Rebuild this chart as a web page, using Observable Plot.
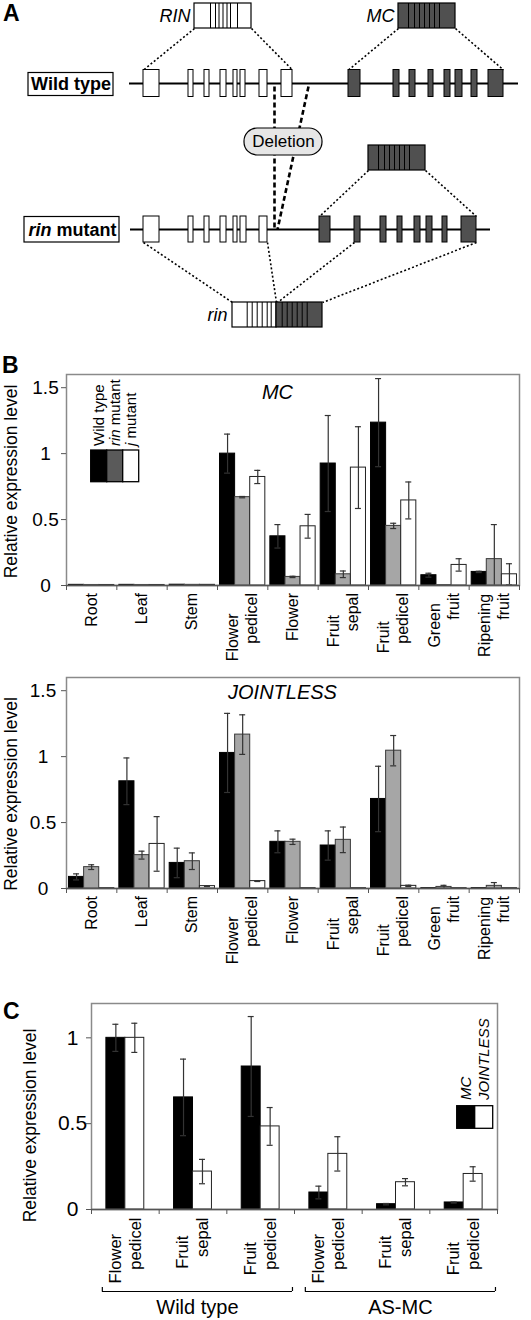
<!DOCTYPE html>
<html><head><meta charset="utf-8">
<script src="https://cdn.jsdelivr.net/npm/d3@7"></script>
<script src="https://cdn.jsdelivr.net/npm/@observablehq/plot@0.6"></script>
<style>
body{margin:0;background:#fff;font-family:"Liberation Sans",Arial,Helvetica,sans-serif;}
#root{position:relative;width:531px;height:1320px;overflow:hidden;background:#fff}
.chart{position:absolute;left:0}
.letter{position:absolute;font-weight:bold;font-size:23px;line-height:1;color:#000}
</style></head><body><div id="root"></div>
<script>
// ---------- DATA ----------
// Panel A: gene structure (schematic positions along the drawing)
const wtRIN  = [[143,159],[188,193],[204,209],[220,226],[233,237],[240,245],[259,267],[281,292]];
const wtMC   = [[348,360],[393,399],[409,415],[428,433],[444,450],[455,462],[471,477],[488,503]];
const rinRIN = [[143,159],[188,193],[204,209],[220,226],[233,237],[240,246],[259,267]];
const rinMC  = [[319,330],[354,360],[380,386],[397,402],[414,420],[426,432],[442,447],[461,476]];

// Panel B
const tissues = ["Root","Leaf","Stem","Flower\npedicel","Flower","Fruit\nsepal","Fruit\npedicel","Green\nfruit","Ripening\nfruit"];
const genotypes = ["Wild type","rin mutant","j mutant"];
const mcWT    = [0.005,0.005,0.006,1.00,0.373,0.925,1.235,0.078,0.103];
const mcWTErr = [0,0,0,0.148,0.089,0.364,0.334,0.015,0.005];
const mcRin    = [0.004,0.004,0.005,0.67,0.065,0.085,0.452,0.003,0.20];
const mcRinErr = [0,0,0,0.005,0.005,0.025,0.02,0,0.262];
const mcJ    = [0.004,0.004,0.005,0.823,0.449,0.894,0.645,0.156,0.085];
const mcJErr = [0,0,0,0.05,0.09,0.31,0.14,0.047,0.08];
const jlWT    = [0.088,0.813,0.194,1.028,0.354,0.326,0.679,0.003,0.003];
const jlWTErr = [0.023,0.177,0.112,0.30,0.083,0.111,0.248,0,0];
const jlRin    = [0.162,0.253,0.207,1.167,0.354,0.369,1.045,0.012,0.02];
const jlRinErr = [0.018,0.03,0.063,0.15,0.02,0.097,0.115,0.012,0.025];
const jlJ    = [0.003,0.338,0.018,0.056,0.003,0.003,0.02,0.003,0.003];
const jlJErr = [0,0.207,0.003,0.003,0,0,0.005,0,0];
const bTicks = [0,0.5,1,1.5];

// Panel C
const cTissues = ["Flower\npedicel","Fruit\nsepal","Fruit\npedicel","Flower\npedicel","Fruit\nsepal","Fruit\npedicel"];
const cLines = ["Wild type","AS-MC"];
const cLineStart = [0,3];
const cLineEnd = [3,6];
const cGenes = ["MC","JOINTLESS"];
const cMC    = [1.0,0.653,0.833,0.099,0.031,0.041];
const cMCErr = [0.079,0.223,0.291,0.037,0.004,0.003];
const cJL    = [1.0,0.221,0.484,0.324,0.159,0.207];
const cJLErr = [0.085,0.071,0.11,0.10,0.021,0.042];
const cTicks = [0,0.5,1];

// ---------- RENDER ----------
const FONT = '"Liberation Sans", Arial, Helvetica, sans-serif';
const root = document.getElementById("root");
function place(node, top){ node.classList.add("chart"); node.style.top = top + "px"; root.appendChild(node); return node; }
function letter(t, left, top){ const d=document.createElement("div"); d.className="letter"; d.textContent=t; d.style.left=left+"px"; d.style.top=top+"px"; root.appendChild(d); }

// ----- Panel A -----
const DARK = "#505050";
const exonRows = [];
wtRIN.forEach(e=>exonRows.push({x1:e[0],x2:e[1],y1:69.5,y2:96.5,fill:"#fff"}));
wtMC.forEach(e=>exonRows.push({x1:e[0],x2:e[1],y1:69.5,y2:96.5,fill:DARK}));
rinRIN.forEach(e=>exonRows.push({x1:e[0],x2:e[1],y1:216,y2:242,fill:"#fff"}));
rinMC.forEach(e=>exonRows.push({x1:e[0],x2:e[1],y1:216,y2:242,fill:DARK}));
const backbones = [{y:83,x1:129,x2:518},{y:229,x1:130,x2:490}];
const cdnaBoxes = [
  {x1:194,x2:251,y1:3,y2:28,fill:"#fff"},
  {x1:398,x2:455,y1:3,y2:28,fill:DARK},
  {x1:368,x2:425,y1:145,y2:170,fill:DARK},
  {x1:232,x2:276,y1:302,y2:327,fill:"#fff"},
  {x1:276,x2:322,y1:302,y2:327,fill:DARK}
];
const stripes = [];
[210,215,218.5,222.5,226.5,230,237].forEach(x=>stripes.push({x,y1:3,y2:28}));
[408,414,419,424,429,434,439].forEach(x=>stripes.push({x,y1:3,y2:28}));
[378,384,389,394,399,404,409].forEach(x=>stripes.push({x,y1:145,y2:170}));
[246.7,251.7,256.7,261.7,266.7,270.7,281.7,286.7,291.7,296.7,301.7,306.7].forEach(x=>stripes.push({x,y1:302,y2:327}));
const dotted = [
  [194,28,143,69.5],[251,28,292,69.5],[398,28,348,69.5],[455,28,503,69.5],
  [368,170,319,216],[425,170,476,216],
  [143,242,232,302],[267,242,276,302],[354,242,277,302],[476,242,322,302]
].map(([x1,y1,x2,y2])=>({x1,y1,x2,y2}));
const deletion = [{x1:274,y1:86,x2:274,y2:229},{x1:308,y1:86,x2:277,y2:229}];

const plotA = Plot.plot({
  width:531, height:364, margin:0,
  x:{domain:[0,531], range:[0,531], axis:null},
  y:{domain:[0,364], range:[0,364], axis:null},
  style:{fontFamily:FONT, background:"transparent", color:"#000", overflow:"visible"},
  marks:[
    Plot.link(dotted,{x1:"x1",y1:"y1",x2:"x2",y2:"y2",stroke:"#000",strokeWidth:1.6,strokeDasharray:"2,2.2"}),
    Plot.link(deletion,{x1:"x1",y1:"y1",x2:"x2",y2:"y2",stroke:"#000",strokeWidth:2.6,strokeDasharray:"5,3"}),
    Plot.ruleY(backbones,{y:"y",x1:"x1",x2:"x2",stroke:"#000",strokeWidth:2}),
    Plot.rect(exonRows,{x1:"x1",x2:"x2",y1:"y1",y2:"y2",fill:"fill",stroke:"#000",strokeWidth:1}),
    Plot.rect(cdnaBoxes,{x1:"x1",x2:"x2",y1:"y1",y2:"y2",fill:"fill",stroke:"#000",strokeWidth:1.2}),
    Plot.ruleX(stripes,{x:"x",y1:"y1",y2:"y2",stroke:"#000",strokeWidth:1}),
    Plot.rect([{x1:244,x2:322,y1:128,y2:155}],{x1:"x1",x2:"x2",y1:"y1",y2:"y2",rx:13,fill:"#e6e6e6",stroke:"#000",strokeWidth:1.2}),
    Plot.text(["Deletion"],{x:283,y:141.5,text:d=>d,fontSize:17,textAnchor:"middle"}),
    Plot.rect([{x1:28,x2:113,y1:72.5,y2:95.5},{x1:24,x2:119,y1:216.5,y2:242}],{x1:"x1",x2:"x2",y1:"y1",y2:"y2",fill:"#fff",stroke:"#000",strokeWidth:1.2}),
    Plot.text(["Wild type"],{x:70.5,y:84,text:d=>d,fontSize:18,fontWeight:"bold",textAnchor:"middle"}),
    Plot.text(["rin"],{x:28,y:229.5,text:d=>d,fontSize:18,fontWeight:"bold",fontStyle:"italic",textAnchor:"start"}),
    Plot.text(["mutant"],{x:56,y:229.5,text:d=>d,fontSize:18,fontWeight:"bold",textAnchor:"start"}),
    Plot.text(["RIN","MC","rin"],{x:[190,394,227],y:[15.5,15.5,314.5],text:d=>d,fontSize:18,fontStyle:"italic",textAnchor:"end"})
  ]
});
place(plotA, 0);

// ----- Bar chart builder -----
const measureCtx = document.createElement("canvas").getContext("2d");
function barChart(cfg){
  const {labels, series, yMax, yTicks, pad, capPx, plotH, mt, mb, ml, mr,
         tickCx, tickFont, ylabDx, ylabDy, labFont, labDy, lineGap, lineShift,
         title, titleDx, titleDy, extra=[]} = cfg;
  const n = labels.length, k = series.length;
  const gw = (531 - ml - mr) / n;
  const pxPerUnit = plotH / yMax;
  const w = (1 - 2*pad) / k;
  const cap = capPx / gw;
  const marks = [];
  const errs = [];
  series.forEach((s, j) => {
    const rows = s.values.map((v, i) => ({i, v, e: s.errors[i],
      x1: i + pad + j*w, x2: i + pad + (j+1)*w, xc: i + pad + (j+0.5)*w}));
    marks.push(Plot.rect(rows, {x1:"x1", x2:"x2", y1:0, y2:"v", fill:s.fill, stroke:s.stroke, strokeWidth:1}));
    rows.forEach(d => { if (d.e > 0) errs.push({...d, lo: Math.max(0, d.v - d.e), hi: d.v + d.e}); });
  });
  // category labels: rotated, lines centred on each other, first line set lower
  measureCtx.font = `${labFont}px ${FONT}`;
  const labelRows = [];
  labels.forEach((lab, i) => {
    const lines = lab.split("\n");
    const ws = lines.map(s => measureCtx.measureText(s).width);
    if (lines.length === 1) labelRows.push({x:i+0.5, off:0, d:ws[0]/2, t:lines[0]});
    else {
      const d1 = Math.max(ws[0]/2, lineShift + ws[1]/2);
      labelRows.push({x:i+0.5, off:-lineGap/2, d:d1, t:lines[0]});
      labelRows.push({x:i+0.5, off:lineGap/2, d:d1 - lineShift, t:lines[1]});
    }
  });
  marks.push(
    Plot.ruleX(errs, {x:"xc", y1:"lo", y2:"hi", stroke:"#333", strokeWidth:1.2}),
    Plot.ruleY(errs, {y:"hi", x1:d=>d.xc-cap, x2:d=>d.xc+cap, stroke:"#333", strokeWidth:1.2}),
    Plot.ruleY(errs.filter(d=>d.lo>0), {y:"lo", x1:d=>d.xc-cap, x2:d=>d.xc+cap, stroke:"#333", strokeWidth:1.2}),
    Plot.frame({stroke:"#8a8a8a", strokeWidth:1.5}),
    Plot.ruleY([0], {stroke:"#555", strokeWidth:1.3}),
    Plot.axisY({ticks:yTicks, tickSize:5, tickFormat:()=>"", stroke:"#555", label:null}),
    Plot.text(yTicks, {y:d=>d, frameAnchor:"left", dx:tickCx-ml, text:d=>String(d), textAnchor:"middle", fontSize:tickFont}),
    Plot.axisX({ticks:d3.range(n+1), tickSize:5, tickFormat:()=>"", stroke:"#555", label:null}),
    Plot.text(labelRows, {x:d=>d.x + d.off/gw, y:d=>-(labDy + d.d)/pxPerUnit, text:"t", rotate:-90,
      textAnchor:"middle", lineAnchor:"middle", fontSize:labFont}),
    Plot.text(["Relative expression level"], {frameAnchor:"left", dx:ylabDx, dy:ylabDy, text:d=>d, rotate:-90,
      textAnchor:"middle", lineAnchor:"middle", fontSize:17.5})
  );
  if (title) marks.push(Plot.text([title], {frameAnchor:"top", dx:titleDx, dy:titleDy, text:d=>d, fontStyle:"italic",
      fontSize:20, textAnchor:"middle", lineAnchor:"middle"}));
  marks.push(...extra);
  return Plot.plot({
    width:531, height: mt + plotH + mb, marginTop:mt, marginBottom:mb, marginLeft:ml, marginRight:mr,
    x:{domain:[0,n]}, y:{domain:[0,yMax]},
    style:{fontFamily:FONT, background:"transparent", color:"#000", overflow:"visible"},
    marks
  });
}

const GRAY = "#a6a6a6";
// ----- Panel B: MC -----
const plotMC = barChart({
  labels: tissues,
  series: [
    {values: mcWT, errors: mcWTErr, fill:"#000", stroke:"#000"},
    {values: mcRin, errors: mcRinErr, fill:GRAY, stroke:"#3a3a3a"},
    {values: mcJ, errors: mcJErr, fill:"#fff", stroke:"#222"}
  ],
  yMax:1.6, yTicks:bTicks, pad:0.05, capPx:3, plotH:211, mt:10, mb:82, ml:66, mr:12,
  tickCx:45, tickFont:19, ylabDx:-55, ylabDy:1.5, labFont:16, labDy:7.5, lineGap:19, lineShift:19,
  title:"MC", titleDx:-15.5, titleDy:18
});
place(plotMC, 364);

// legend for MC chart (svg coordinates)
{
  const svg = d3.select(plotMC);
  const g = svg.append("g").attr("font-family", FONT).attr("font-size", 15).attr("text-anchor", "start");
  const fills = ["#000", "#5a5a5a", "#fff"];
  const xs = [90.7, 106.7, 122.7];
  xs.forEach((x, j) => g.append("rect").attr("x", x).attr("y", 86).attr("width", 16).attr("height", 31.7)
    .attr("fill", fills[j]).attr("stroke", "#000").attr("stroke-width", 1.3));
  const cx = [98.7, 114.7, 130.7];
  genotypes.forEach((name, j) => {
    const t = g.append("text").attr("transform", `translate(${cx[j]},82) rotate(-90)`).attr("dy", "0.35em")
      .attr("text-anchor", "start").attr("fill", "#000");
    const parts = name.split(" ");
    const italic = j > 0;
    t.append("tspan").attr("font-style", italic ? "italic" : "normal").text(italic ? parts[0] : name);
    if (italic) t.append("tspan").text(" " + parts.slice(1).join(" "));
  });
}

// ----- Panel B: JOINTLESS -----
const plotJL = barChart({
  labels: tissues,
  series: [
    {values: jlWT, errors: jlWTErr, fill:"#000", stroke:"#000"},
    {values: jlRin, errors: jlRinErr, fill:GRAY, stroke:"#3a3a3a"},
    {values: jlJ, errors: jlJErr, fill:"#fff", stroke:"#222"}
  ],
  yMax:1.6, yTicks:bTicks, pad:0.05, capPx:3, plotH:211, mt:10, mb:82, ml:66, mr:12,
  tickCx:42.5, tickFont:19, ylabDx:-55, ylabDy:11, labFont:16, labDy:7.5, lineGap:19, lineShift:19,
  title:"JOINTLESS", titleDx:-10.5, titleDy:15
});
place(plotJL, 667);

// ----- Panel C -----
const bracketRows = cLines.map((name, i) => ({name, a: cLineStart[i] + 0.16, b: cLineEnd[i] - 0.03}));
const plotC = barChart({
  labels: cTissues,
  series: [
    {values: cMC, errors: cMCErr, fill:"#000", stroke:"#000"},
    {values: cJL, errors: cJLErr, fill:"#fff", stroke:"#222"}
  ],
  yMax:1.2, yTicks:cTicks, pad:0.22, capPx:3, plotH:206, mt:10, mb:111, ml:91, mr:34,
  tickCx:72, tickFont:21, ylabDx:-61, ylabDy:19, labFont:16.5, labDy:8, lineGap:20, lineShift:15,
  extra: [
    Plot.ruleY(bracketRows, {y:0, x1:"a", x2:"b", dy:82, stroke:"#000", strokeWidth:1.2}),
    Plot.ruleX(bracketRows, {x:"a", y1:0, y2:0, dy:82, insetTop:-4, stroke:"#000", strokeWidth:1.2}),
    Plot.ruleX(bracketRows, {x:"b", y1:0, y2:0, dy:82, insetTop:-4, stroke:"#000", strokeWidth:1.2}),
    Plot.text(bracketRows, {x:d=>(d.a+d.b)/2, y:0, dy:98, text:"name", fontSize:20, textAnchor:"middle", lineAnchor:"middle"})
  ]
});
place(plotC, 993);
{
  const svg = d3.select(plotC);
  const g = svg.append("g").attr("font-family", FONT).attr("font-size", 15).attr("text-anchor", "start");
  [["#000", 456.7], ["#fff", 474.7]].forEach(([f, x]) => g.append("rect").attr("x", x).attr("y", 112.7)
    .attr("width", 18).attr("height", 22.6).attr("fill", f).attr("stroke", "#000").attr("stroke-width", 1.3));
  const cx = [466, 484];
  cGenes.forEach((name, j) => g.append("text").attr("transform", `translate(${cx[j]},107) rotate(-90)`)
    .attr("dy", "0.35em").attr("text-anchor", "start").attr("font-style", "italic").attr("fill", "#000").text(name));
}

letter("A", 3, 2);
letter("B", 2, 354);
letter("C", 3, 1000);
</script>
</body></html>
